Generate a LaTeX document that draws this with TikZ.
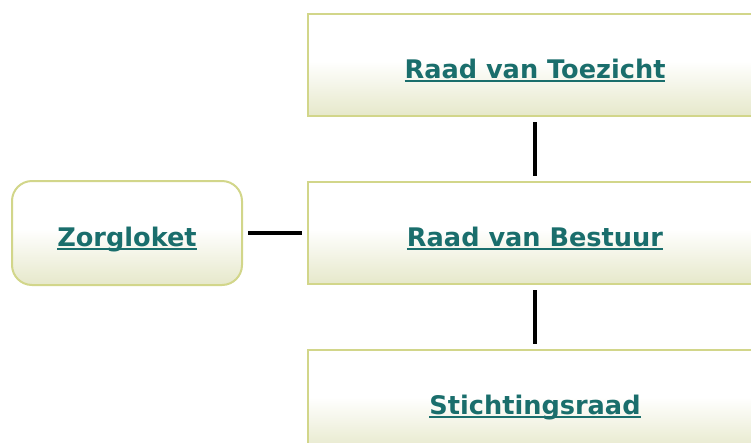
\documentclass[tikz,border=0pt]{standalone}
\usepackage{fontspec}
\setmainfont{DejaVu Sans}
\usetikzlibrary{positioning}
\definecolor{linkteal}{HTML}{1A6E6C}
\definecolor{boxline}{HTML}{D2D68A}
\definecolor{boxfoot}{HTML}{E6E8CA}
\pgfdeclareverticalshading{boxfade}{100bp}{color(0bp)=(boxfoot); color(25bp)=(boxfoot);
  color(52bp)=(white); color(100bp)=(white)}
\newcommand{\linkname}[1]{\setbox0\hbox{#1}\rlap{\rule[-3.6pt]{\wd0}{1.6pt}}\box0}
\tikzset{
  orgbox/.style={draw=boxline, line width=2pt, shading=boxfade,
    minimum width=454pt, minimum height=102pt,
    text height=30pt, text depth=4pt,
    font=\fontsize{25.6}{30}\selectfont\bfseries, text=linkteal},
  sidebox/.style={orgbox, rounded corners=20pt, minimum width=230pt, minimum height=104pt},
  joinline/.style={line width=3.5pt, black, shorten <=5pt, shorten >=5pt}
}

\begin{document}
\begin{tikzpicture}[x=1pt, y=1pt]
    \clip (0,0) rectangle (751,-442);
    % middle row
    \node[orgbox] (bestuur) at (535,-233) {\linkname{Raad van Bestuur}};
    \node[orgbox, above=64pt of bestuur] (toezicht) {\linkname{Raad van Toezicht}};
    \node[orgbox, below=64pt of bestuur] (stichting) {\linkname{Stichtingsraad}};
    \node[sidebox, left=64pt of bestuur] (zorgloket) {\linkname{Zorgloket}};
    %\draw[joinline] (zorgloket) -- (toezicht);
    \draw[joinline] (toezicht) -- (bestuur);
    \draw[joinline] (bestuur) -- (stichting);
    \draw[joinline] (zorgloket) -- (bestuur);
\end{tikzpicture}
\end{document}
